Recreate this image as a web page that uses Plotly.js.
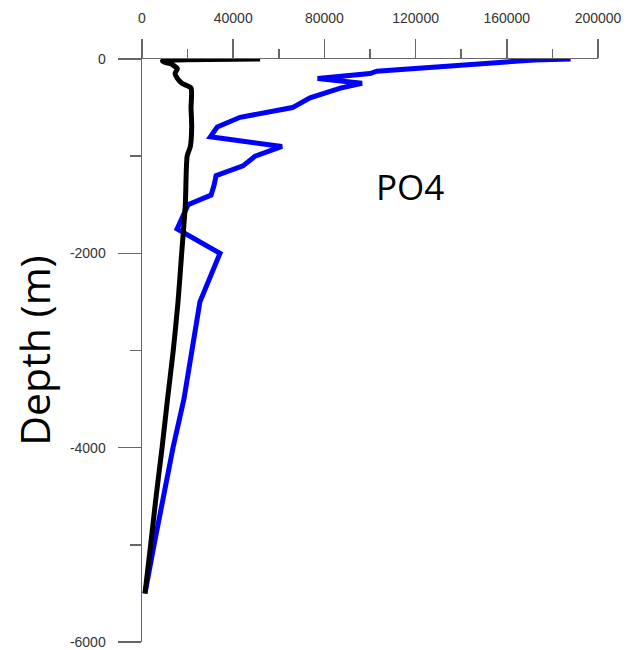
<!DOCTYPE html>
<html>
<head>
<meta charset="utf-8">
<script src="https://cdn.plot.ly/plotly-3.0.1.min.js"></script>
<style>html,body{margin:0;padding:0;background:#fff;}#chart{width:627px;height:650px;}</style>
</head>
<body>
<div id="chart"></div>
<script>
// Blue profile
const blueDepth = [0, 10, 125, 150, 200, 250, 300, 400, 500, 600, 700, 800, 900, 1000, 1100, 1200, 1300, 1400, 1500, 1750, 2000, 2500, 3000, 3500, 4000, 4500, 5000, 5500];
const blueValue = [188000, 172000, 103000, 100000, 77000, 96500, 87000, 73700, 66000, 43000, 33000, 30000, 61400, 49600, 44300, 32500, 31600, 30300, 20200, 15400, 34200, 25400, 21900, 18400, 13600, 9200, 5300, 1300];
// Black profile
const blackDepth = [0, 20, 30, 50, 100, 150, 200, 250, 300, 500, 700, 900, 1000, 1500, 2000, 2500, 3000, 3500, 4000, 4500, 5000, 5500];
const blackValue = [51800, 9000, 9500, 12500, 15500, 14500, 15500, 17500, 21500, 21500, 21800, 21200, 19800, 19000, 17400, 15800, 13700, 11200, 8800, 6200, 3800, 1300];

const xTickVals = [0, 40000, 80000, 120000, 160000, 200000];
const yTickVals = [0, -2000, -4000, -6000];
const label = "PO4";
const yTitle = "Depth (m)";

const traces = [
  {x: blueValue, y: blueDepth.map(d => -d), mode: 'lines', line: {color: '#0000ff', width: 5, shape: 'linear'}, hoverinfo: 'skip', showlegend: false},
  {x: blackValue, y: blackDepth.map(d => -d), mode: 'lines', line: {color: '#000000', width: 5, shape: 'spline', smoothing: 0.6}, hoverinfo: 'skip', showlegend: false}
];

const axisCol = '#666666';
const layout = {
  width: 627, height: 650,
  margin: {l: 142, r: 29, t: 59, b: 8, pad: 0},
  paper_bgcolor: '#ffffff', plot_bgcolor: '#ffffff',
  showlegend: false,
  xaxis: {
    side: 'top', range: [0, 200000], tickvals: xTickVals, ticktext: xTickVals.map(String),
    ticks: 'outside', ticklen: 19, tickwidth: 1.5, tickcolor: axisCol,
    minor: {dtick: 20000, tick0: 0, ticks: 'outside', ticklen: 9, tickwidth: 1.5, tickcolor: axisCol, showgrid: false},
    showline: true, linecolor: axisCol, linewidth: 1.5, showgrid: false, zeroline: false,
    ticklabelstandoff: 10,
    tickfont: {family: 'Liberation Sans, Arial, sans-serif', size: 14, color: '#333333'}
  },
  yaxis: {
    range: [-6000, 0], tickvals: yTickVals, ticktext: yTickVals.map(String),
    ticks: 'outside', ticklen: 23, tickwidth: 1.5, tickcolor: axisCol,
    minor: {dtick: 1000, tick0: 0, ticks: 'outside', ticklen: 11, tickwidth: 1.5, tickcolor: axisCol, showgrid: false},
    showline: true, linecolor: axisCol, linewidth: 1.5, showgrid: false, zeroline: false,
    ticklabelstandoff: 9,
    tickfont: {family: 'Liberation Sans, Arial, sans-serif', size: 14, color: '#333333'},
    title: {text: yTitle, standoff: 6, font: {family: 'Open Sans, sans-serif', size: 41, color: '#000000'}}
  },
  annotations: [
    {text: label, xref: 'paper', yref: 'paper', x: 0.588, y: 0.782, xanchor: 'center', yanchor: 'middle', showarrow: false,
     font: {family: 'Open Sans, sans-serif', size: 35, color: '#000000'}}
  ]
};

Plotly.newPlot('chart', traces, layout, {displayModeBar: false, staticPlot: true});
</script>
</body>
</html>
